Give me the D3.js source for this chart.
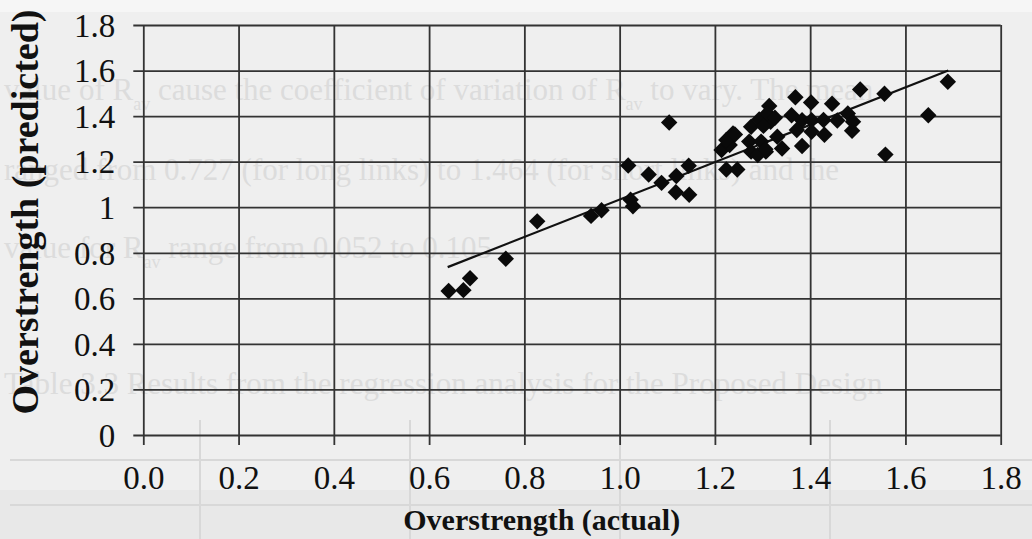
<!DOCTYPE html>
<html>
<head>
<meta charset="utf-8">
<script src="https://cdn.jsdelivr.net/npm/d3@7/dist/d3.min.js"></script>
<style>
  body { margin: 0; background: #efefef; }
  svg { display: block; font-family: "Liberation Serif", "Times New Roman", serif; }
</style>
</head>
<body>
<div id="chart"></div>
<script>
var width = 1032;
var height = 539;

// overstrength, actual vs predicted
var actual = [0.641, 0.672, 0.686, 0.761, 0.827, 0.940, 0.962, 1.018, 1.023, 1.028,
  1.061, 1.088, 1.104, 1.119, 1.145, 1.118, 1.146, 1.224, 1.247, 1.214,
  1.231, 1.238, 1.224, 1.276, 1.293, 1.314, 1.317, 1.310, 1.272, 1.276,
  1.297, 1.307, 1.290, 1.331, 1.341, 1.361, 1.369, 1.383, 1.372, 1.383,
  1.402, 1.403, 1.403, 1.428, 1.430, 1.446, 1.457, 1.479, 1.488, 1.490,
  1.505, 1.556, 1.558, 1.648, 1.689, 1.302, 1.326, 1.306, 1.242];
var predicted = [0.632, 0.636, 0.688, 0.774, 0.938, 0.962, 0.987, 1.183, 1.033, 1.004,
  1.144, 1.107, 1.372, 1.137, 1.182, 1.066, 1.055, 1.166, 1.166, 1.251,
  1.273, 1.324, 1.295, 1.353, 1.385, 1.444, 1.375, 1.412, 1.288, 1.244,
  1.288, 1.244, 1.229, 1.309, 1.258, 1.404, 1.483, 1.382, 1.339, 1.269,
  1.460, 1.382, 1.331, 1.383, 1.318, 1.454, 1.381, 1.412, 1.336, 1.375,
  1.517, 1.498, 1.231, 1.404, 1.551, 1.357, 1.393, 1.255, 1.319];

// fitted line end points
var trendX = [0.639, 1.690];
var trendY = [0.737, 1.600];

var xTickValues = [0, 0.2, 0.4, 0.6, 0.8, 1.0, 1.2, 1.4, 1.6, 1.8];
var xTickLabels = ["0.0", "0.2", "0.4", "0.6", "0.8", "1.0", "1.2", "1.4", "1.6", "1.8"];
var yTickValues = [0, 0.2, 0.4, 0.6, 0.8, 1.0, 1.2, 1.4, 1.6, 1.8];
var yTickLabels = ["0", "0.2", "0.4", "0.6", "0.8", "1", "1.2", "1.4", "1.6", "1.8"];

// faded page text showing through the scan (pieces, "av" = subscript)
var pageLines = [
  { y: 100, parts: ["value of R", "av", " cause the coefficient of variation of R", "av", " to vary. The mean"] },
  { y: 180, parts: ["ranged from 0.727 (for long links) to 1.464 (for short links) and the"] },
  { y: 258, parts: ["value for R", "av", " range from 0.052 to 0.105"] },
  { y: 394, parts: ["Table 3.3 Results from the regression analysis for the Proposed Design"] }
];

var svg = d3
  .select("#chart")
  .append("svg")
  .attr("width", width)
  .attr("height", height);

var margin = { left: 143.3, right: 1000.7, top: 25, bottom: 435 };

var x = d3.scaleLinear().domain([0, 1.8]).range([margin.left, margin.right]);
var y = d3.scaleLinear().domain([0, 1.8]).range([margin.bottom, margin.top]);

// scan background
svg.append("rect").attr("width", width).attr("height", height).attr("fill", "#efefef");
svg.append("rect").attr("y", 0).attr("width", width).attr("height", 12).attr("fill", "#f6f6f6");
svg.append("rect").attr("y", 490).attr("width", width).attr("height", 49).attr("fill", "#e8e8e8");

var page = svg.append("g")
  .selectAll("text")
  .data(pageLines)
  .enter()
  .append("text")
  .attr("x", 4)
  .attr("y", function(d) { return d.y; })
  .attr("font-size", 31)
  .attr("fill", "#dcdcdc");

page.each(function(d) {
  var t = d3.select(this);
  d.parts.forEach(function(p) {
    if (p === "av") {
      t.append("tspan").attr("font-size", 18).attr("baseline-shift", "sub").text(p);
    } else {
      t.append("tspan").text(p);
    }
  });
});

// faint table under the plot
var tbl = svg.append("g").attr("stroke", "#d8d8d8").attr("stroke-width", 2);
tbl.append("line").attr("x1", 10).attr("x2", 1032).attr("y1", 460).attr("y2", 460);
tbl.append("line").attr("x1", 10).attr("x2", 1032).attr("y1", 505).attr("y2", 505);
[200, 410, 620, 830].forEach(function(cx) {
  tbl.append("line").attr("x1", cx).attr("x2", cx).attr("y1", 420).attr("y2", 539);
});

// grid + axes
var yAxis = d3.axisLeft(y)
  .tickValues(yTickValues)
  .tickFormat(function(d, i) { return yTickLabels[i]; })
  .tickSize(-(margin.right - margin.left))
  .tickPadding(28);

var gy = svg.append("g")
  .attr("transform", "translate(" + margin.left + ",0)")
  .call(yAxis);
gy.select(".domain").remove();
gy.selectAll(".tick line").attr("x1", -10);

var xAxis = d3.axisBottom(x)
  .tickValues(xTickValues)
  .tickFormat(function(d, i) { return xTickLabels[i]; })
  .tickSize(-(margin.bottom - margin.top))
  .tickPadding(31);

var gx = svg.append("g")
  .attr("transform", "translate(0," + margin.bottom + ")")
  .call(xAxis);
gx.select(".domain").remove();
gx.selectAll(".tick line").attr("y1", 10);

svg.selectAll(".tick line")
  .attr("stroke", "#333")
  .attr("stroke-width", 1.8);

svg.selectAll(".tick text")
  .attr("fill", "#111")
  .attr("font-size", 33)
  .attr("font-family", "'Liberation Serif', 'Times New Roman', serif");

gy.selectAll(".tick text").attr("dy", "0.34em");

// trend line
svg.append("line")
  .attr("x1", x(trendX[0]))
  .attr("y1", y(trendY[0]))
  .attr("x2", x(trendX[1]))
  .attr("y2", y(trendY[1]))
  .attr("stroke", "#111")
  .attr("stroke-width", 2.2);

// data diamonds
var diamond = d3.symbol().type(d3.symbolSquare).size(135);
svg.append("g")
  .selectAll("path")
  .data(actual)
  .enter()
  .append("path")
  .attr("d", diamond)
  .attr("transform", function(d, i) {
    return "translate(" + x(d) + "," + y(predicted[i]) + ") rotate(45)";
  })
  .attr("fill", "#0a0a0a");

// axis titles
svg.append("text")
  .attr("x", 541.7)
  .attr("y", 530)
  .attr("text-anchor", "middle")
  .attr("font-size", 30)
  .attr("font-weight", "bold")
  .attr("fill", "#111")
  .text("Overstrength (actual)");

svg.append("text")
  .attr("transform", "translate(38,212) rotate(-90)")
  .attr("text-anchor", "middle")
  .attr("font-size", 38)
  .attr("font-weight", "bold")
  .attr("fill", "#111")
  .text("Overstrength (predicted)");
</script>
</body>
</html>
